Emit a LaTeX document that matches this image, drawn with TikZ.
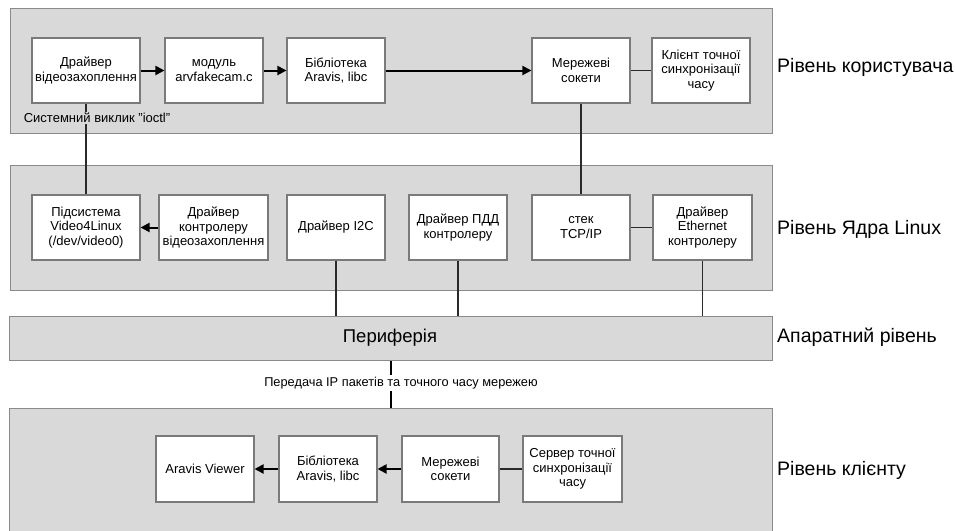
\documentclass[tikz,border=0pt]{standalone}
\usepackage{fontspec}
\setmainfont{Liberation Sans}
\usetikzlibrary{arrows.meta}
\definecolor{layerfill}{HTML}{D9D9D9}
\definecolor{layerdraw}{HTML}{8A8A8A}
\definecolor{boxdraw}{HTML}{7A7A7A}
\definecolor{linecol}{HTML}{2A2A2A}
\begin{document}
\begin{tikzpicture}[x=1pt,y=-1pt,
  layer/.style={draw=layerdraw,fill=layerfill,line width=1.2pt,inner sep=0pt,anchor=north west},
  blk/.style={draw=boxdraw,fill=white,line width=1.1pt,inner sep=0pt,align=center,
    minimum height=65pt,font=\fontsize{13}{14.5}\selectfont},
  lvl/.style={anchor=west,inner sep=0pt,font=\fontsize{19.5}{22}\selectfont},
  conn/.style={draw=linecol,line width=1.1pt},
  arr/.style={draw=black,line width=2pt,-{Triangle[length=9pt,width=9pt]}},
]
\useasboundingbox (0,0) rectangle (955,530);
% layers
\node[layer,minimum width=762pt,minimum height=125pt] (L1) at (10,8) {};
\node[layer,minimum width=762pt,minimum height=125pt] (L2) at (10,165) {};
\node[layer,minimum width=763pt,minimum height=44pt] (per) at (9,316) {};
\node[layer,minimum width=763pt,minimum height=132pt] (L4) at (9,408) {};
\node[inner sep=0pt,font=\fontsize{18.5}{22}\selectfont] (pertext) at (390,338) {Периферія};
% level labels
\node[lvl] (lv1) at (777,67) {Рівень користувача};
\node[lvl] (lv2) at (777,229) {Рівень Ядра Linux};
\node[lvl] (lv3) at (777,337) {Апаратний рівень};
\node[lvl] (lv4) at (777,470) {Рівень клієнту};
% user level
\node[blk,minimum width=108pt] (drv) at (86,70.5) {Драйвер\\відеозахоплення};
\node[blk,minimum width=98pt] (mod) at (214,70.5) {модуль\\arvfakecam.c};
\node[blk,minimum width=98pt] (lib) at (336,70.5) {Бібліотека\\Aravis, libc};
\node[blk,minimum width=98pt] (sock) at (581,70.5) {Мережеві\\сокети};
\node[blk,minimum width=98pt] (clnt) at (701,70.5) {Клієнт точної\\синхронізації\\часу};
% kernel level
\node[blk,minimum width=108pt] (v4l) at (86,227.5) {Підсистема\\Video4Linux\\(/dev/video0)};
\node[blk,minimum width=109pt] (drvc) at (213.5,227.5) {Драйвер\\контролеру\\відеозахоплення};
\node[blk,minimum width=98pt] (i2c) at (336,227.5) {Драйвер I2C};
\node[blk,minimum width=98pt] (pdd) at (458,227.5) {Драйвер ПДД\\контролеру};
\node[blk,minimum width=98pt] (tcp) at (581,227.5) {стек\\TCP/IP};
\node[blk,minimum width=99pt] (eth) at (702.5,227.5) {Драйвер\\Ethernet\\контролеру};
% client level
\node[blk,minimum width=98pt,minimum height=66pt] (view) at (205,469) {Aravis Viewer};
\node[blk,minimum width=98pt,minimum height=66pt] (lib2) at (328,469) {Бібліотека\\Aravis, libc};
\node[blk,minimum width=97pt,minimum height=66pt] (sock2) at (450.5,469) {Мережеві\\сокети};
\node[blk,minimum width=99pt,minimum height=66pt] (srv) at (572.5,469) {Сервер точної\\синхронізації\\часу};
% arrows user level
\draw[arr] (drv) -- (mod);
\draw[arr] (mod) -- (lib);
\draw[arr] (lib) -- (sock);
\draw[conn] (sock) -- (clnt);
% vertical links
\draw[conn] (drv.south) -- (v4l.north);
\node[fill=layerfill,inner sep=1pt,font=\fontsize{13}{14.5}\selectfont] (ioctl) at (97,118) {Системний виклик "ioctl"};
\draw[conn] (sock.south) -- (tcp.north);
% kernel level
\draw[arr] (drvc) -- (v4l);
\draw[conn] (tcp) -- (eth);
\draw[conn] (i2c.south) -- (i2c.south |- per.north);
\draw[conn] (pdd.south) -- (pdd.south |- per.north);
\draw[conn] (eth.south) -- (eth.south |- per.north);
% network transmission
\draw[draw=black,line width=2.4pt] (per.south) -- (L4.north);
\node[fill=white,inner sep=2pt,font=\fontsize{12.8}{14}\selectfont] (tx) at (401,383) {Передача IP пакетів та точного часу мережею};
% client level arrows
\draw[conn] (sock2) -- (srv);
\draw[arr] (sock2) -- (lib2);
\draw[arr] (lib2) -- (view);
\end{tikzpicture}
\end{document}
